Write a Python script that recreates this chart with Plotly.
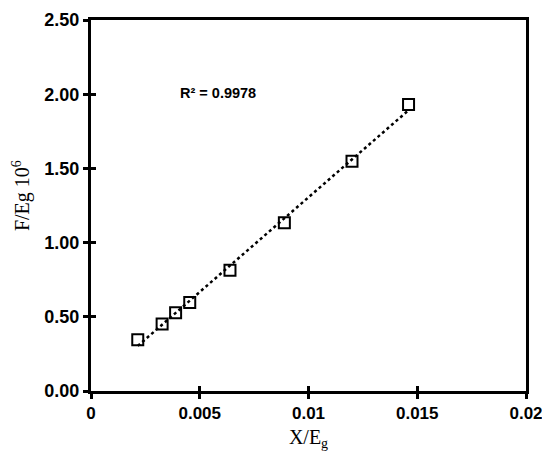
import numpy as np
import plotly.graph_objects as go

# data
x_eg = [0.00215, 0.00327, 0.00389, 0.00454, 0.00639, 0.00889, 0.0120, 0.0146]
f_eg = [0.345, 0.451, 0.527, 0.597, 0.814, 1.134, 1.548, 1.930]
r2_text = "R² = 0.9978"

y_ticks = [0, 0.5, 1.0, 1.5, 2.0, 2.5]
x_ticks = [0, 0.005, 0.01, 0.015, 0.02]

# linear trendline (like excel)
slope, icpt = np.polyfit(x_eg, f_eg, 1)
tx = [min(x_eg), max(x_eg)]
ty = [slope * v + icpt for v in tx]

fig = go.Figure()
fig.add_trace(go.Scatter(x=tx, y=ty, mode="lines",
                         line=dict(color="black", width=2.5, dash="dot"),
                         showlegend=False))
fig.add_trace(go.Scatter(x=x_eg, y=f_eg, mode="markers",
                         marker=dict(symbol="square-open", size=11,
                                     color="black", line=dict(width=2)),
                         showlegend=False))
# dummy trace so the second pair of axes (inside ticks) gets drawn
fig.add_trace(go.Scatter(x=[None], y=[None], xaxis="x2", yaxis="y2",
                         showlegend=False, hoverinfo="skip"))

xtickfont = dict(family="Liberation Sans", size=17, color="#000000", weight="bold")
ytickfont = dict(family="Liberation Sans", size=18, color="#000000", weight="bold")
titlefont = dict(family="Liberation Serif", size=20, color="#000000")

# the page body has an 8px margin, so margins are set 8px smaller
fig.update_layout(
    width=550, height=455,
    margin=dict(l=83, r=32, t=12, b=72),
    plot_bgcolor="white", paper_bgcolor="white",
    xaxis=dict(range=[0, 0.02], tickvals=x_ticks,
               ticktext=["0", "0.005", "0.01", "0.015", "0.02"],
               showgrid=False, zeroline=False, automargin=False,
               showline=True, linecolor="black", linewidth=3, mirror=True,
               ticks="outside", ticklen=5, tickwidth=2.5, tickcolor="black",
               tickfont=xtickfont,
               title=dict(text="X/E<sub>g</sub>", font=titlefont, standoff=8)),
    yaxis=dict(range=[0, 2.5], tickvals=y_ticks, tickformat=".2f",
               showgrid=False, zeroline=False, automargin=False,
               showline=True, linecolor="black", linewidth=3, mirror=True,
               ticks="outside", ticklen=5, tickwidth=2.5, tickcolor="black",
               tickfont=ytickfont),
    xaxis2=dict(range=[0, 0.02], tickvals=x_ticks, overlaying="x",
                anchor="y", side="bottom", showticklabels=False,
                showgrid=False, zeroline=False, showline=False, automargin=False,
                ticks="inside", ticklen=5, tickwidth=2.5, tickcolor="black"),
    yaxis2=dict(range=[0, 2.5], tickvals=y_ticks, overlaying="y",
                anchor="x", side="left", showticklabels=False,
                showgrid=False, zeroline=False, showline=False, automargin=False,
                ticks="inside", ticklen=5, tickwidth=2.5, tickcolor="black"),
    annotations=[
        dict(x=0.00584, y=2.005, xref="x", yref="y", text=r2_text,
             showarrow=False,
             font=dict(family="Liberation Sans", size=14.5,
                       color="#000000", weight="bold")),
        # y axis title, placed a little above centre as in the original
        dict(x=-0.161, y=0.528, xref="paper", yref="paper",
             text="F/Eg 10<sup>6</sup>", textangle=-90, showarrow=False,
             xanchor="center", yanchor="middle", font=titlefont),
    ],
)

fig.write_html("out.html")
